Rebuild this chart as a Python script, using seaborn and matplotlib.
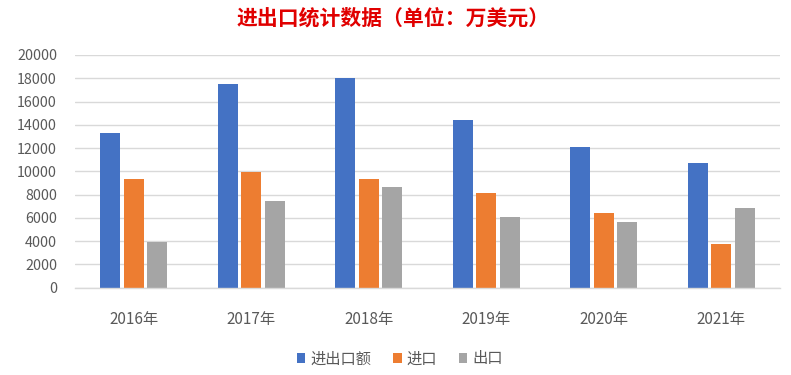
import matplotlib
matplotlib.use("Agg")
import matplotlib.pyplot as plt
import seaborn as sns
import pandas as pd

# 数据（单位：万美元）
years = ["2016年", "2017年", "2018年", "2019年", "2020年", "2021年"]
total = [13270, 17480, 18020, 14410, 12090, 10720]
imports = [9340, 9920, 9340, 8170, 6420, 3760]
exports = [3900, 7450, 8650, 6080, 5620, 6880]
series = ["进出口额", "进口", "出口"]
colors = ["#4472C4", "#ED7D31", "#A5A5A5"]

df = pd.DataFrame({"年份": years, series[0]: total, series[1]: imports, series[2]: exports})
df = df.melt(id_vars="年份", var_name="类别", value_name="金额")

sns.set_theme(style="white")
plt.rcParams["font.family"] = ["Noto Sans CJK SC", "DejaVu Sans"]

fig = plt.figure(figsize=(7.91, 3.75), dpi=100)
ax = fig.add_axes([75 / 791, 1 - 287.7 / 375, 705 / 791, 232.7 / 375])

sns.barplot(data=df, x="年份", y="金额", hue="类别", hue_order=series,
            palette=colors, width=0.6, gap=0.15, saturation=1, linewidth=0,
            ax=ax, legend=True)

ax.set_ylim(0, 20000)
ax.set_xlim(-0.5, len(years) - 0.5)
ax.set_yticks(range(0, 20001, 2000))
ax.yaxis.grid(True, color="#D9D9D9", linewidth=1)
ax.set_axisbelow(True)
for s in ["top", "right", "left"]:
    ax.spines[s].set_visible(False)
ax.spines["bottom"].set_color("#D9D9D9")
ax.spines["bottom"].set_linewidth(1)
ax.tick_params(axis="both", length=0, colors="#595959")
ax.tick_params(axis="x", pad=17, labelsize=11)
ax.tick_params(axis="y", pad=13, labelsize=10.3)
ax.set_xlabel("")
ax.set_ylabel("")

ax.legend(loc="center", bbox_to_anchor=(400 / 791, 1 - 359 / 375),
          bbox_transform=fig.transFigure, ncol=3, frameon=False,
          fontsize=11, handlelength=0.55, handleheight=0.55, handletextpad=0.35,
          columnspacing=1.4, labelcolor="#595959")

fig.text(393 / 791, 1 - 18 / 375, "进出口统计数据（单位：万美元）", color="#E00000",
         fontsize=15, fontweight="bold", ha="center", va="center")

fig.savefig("out.png", dpi=100)
